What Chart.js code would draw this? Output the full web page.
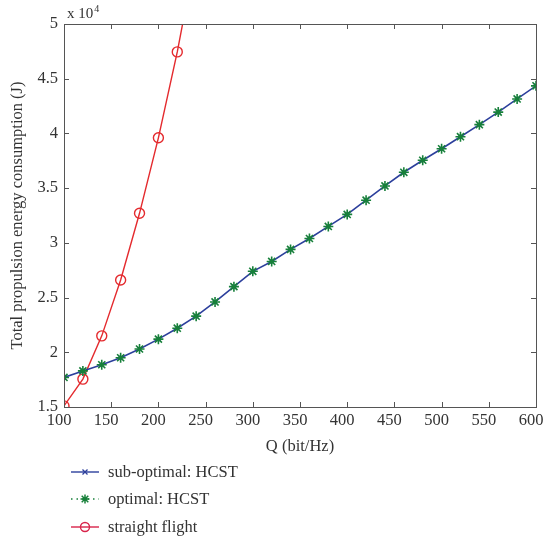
<!DOCTYPE html>
<html>
<head>
<meta charset="utf-8">
<script src="https://cdn.jsdelivr.net/npm/chart.js@4"></script>
<style>
  html, body { margin: 0; padding: 0; background: #fff; }
  #wrap { position: relative; width: 543px; height: 541px; }
  #c { position: absolute; left: 0; top: 0; }
  #legend { position: absolute; left: 70px; top: 458px; font-family: "Liberation Serif", "DejaVu Serif", serif; font-size: 16.5px; color: #333; }
  .item { height: 27.5px; display: flex; align-items: center; }
  .item svg { margin-right: 8px; }
</style>
</head>
<body>
<div id="wrap">
  <canvas id="c" width="543" height="541"></canvas>
  <div id="legend"></div>
</div>
<script>
// ---- data (energy in units of 10^4 J) ----
const qHCST = [100,120,140,160,180,200,220,240,260,280,300,320,340,360,380,400,420,440,460,480,500,520,540,560,580,600];
const subOptimal = [1.77,1.83,1.886,1.95,2.03,2.12,2.22,2.33,2.46,2.60,2.74,2.83,2.94,3.04,3.15,3.26,3.39,3.52,3.645,3.755,3.86,3.97,4.08,4.195,4.315,4.435];
const optimal    = [1.77,1.83,1.886,1.95,2.03,2.12,2.22,2.33,2.46,2.60,2.74,2.83,2.94,3.04,3.15,3.26,3.39,3.52,3.645,3.755,3.86,3.97,4.08,4.195,4.315,4.435];
const qStraight = [100,120,140,160,180,200,220,240];
const straight  = [1.51,1.755,2.15,2.66,3.27,3.96,4.745,5.65];
const xTickValues = [100,150,200,250,300,350,400,450,500,550,600];
const yTickValues = [1.5,2,2.5,3,3.5,4,4.5,5];
const seriesNames = ['sub-optimal: HCST','optimal: HCST','straight flight'];

const BLUE = '#2c3f9c', GREEN = '#17803a', RED = '#e42a2e', AXIS = '#555', TXT = '#333';
const FONT = '"Liberation Serif", "DejaVu Serif", serif';

const toXY = (xs, ys) => xs.map((x, i) => ({x, y: ys[i]}));

const boxTicks = {
  id: 'boxTicks',
  afterDraw(chart) {
    const {ctx, chartArea: a, scales: {x, y}} = chart;
    ctx.save();
    ctx.strokeStyle = AXIS;
    ctx.lineWidth = 1;
    ctx.strokeRect(a.left + 0.5, a.top + 0.5, a.right - a.left, a.bottom - a.top);
    const L = 5;
    ctx.beginPath();
    xTickValues.forEach(v => {
      const px = Math.round(x.getPixelForValue(v)) + 0.5;
      ctx.moveTo(px, a.bottom); ctx.lineTo(px, a.bottom - L);
      ctx.moveTo(px, a.top); ctx.lineTo(px, a.top + L);
    });
    yTickValues.forEach(v => {
      const py = Math.round(y.getPixelForValue(v)) + 0.5;
      ctx.moveTo(a.left, py); ctx.lineTo(a.left + L, py);
      ctx.moveTo(a.right, py); ctx.lineTo(a.right - L, py);
    });
    ctx.stroke();
    // exponent label
    ctx.fillStyle = TXT;
    ctx.textBaseline = 'alphabetic';
    ctx.font = '15px ' + FONT;
    ctx.fillText('x 10', a.left + 3, a.top - 6);
    const w = ctx.measureText('x 10').width;
    ctx.font = '10px ' + FONT;
    ctx.fillText('4', a.left + 3 + w + 1, a.top - 12);
    ctx.restore();
  }
};

const chart = new Chart(document.getElementById('c'), {
  type: 'line',
  data: {
    datasets: [
      {
        label: seriesNames[1], data: toXY(qHCST, optimal), order: 0,
        borderColor: GREEN, borderWidth: 1.2, borderDash: [1.5, 3], showLine: false,
        pointStyle: 'star', pointRadius: 5, pointBorderWidth: 1.6, pointBorderColor: GREEN, pointBackgroundColor: GREEN
      },
      {
        label: seriesNames[0], data: toXY(qHCST, subOptimal), order: 1,
        borderColor: BLUE, borderWidth: 1.6,
        pointStyle: 'crossRot', pointRadius: 3, pointBorderWidth: 1.2, pointBorderColor: BLUE
      },
      {
        label: seriesNames[2], data: toXY(qStraight, straight), order: 2,
        borderColor: RED, borderWidth: 1.4,
        pointStyle: 'circle', pointRadius: 5, pointBorderWidth: 1.4, pointBorderColor: RED, pointBackgroundColor: 'rgba(0,0,0,0)'
      }
    ]
  },
  options: {
    responsive: false,
    animation: false,
    layout: { padding: { top: 24, right: 7, left: 0, bottom: 84 } },
    plugins: { legend: { display: false }, tooltip: { enabled: false } },
    scales: {
      x: {
        type: 'linear', min: 100, max: 600,
        afterBuildTicks: s => { s.ticks = xTickValues.map(v => ({value: v})); },
        afterFit: s => { s.height = 50; s.paddingLeft = 0; s.paddingRight = 0; },
        grid: { display: false, drawTicks: false },
        border: { display: false },
        ticks: { color: TXT, font: { family: FONT, size: 16.5 }, padding: 4, labelOffset: -5, maxRotation: 0, autoSkip: false },
        title: { display: true, text: 'Q (bit/Hz)', color: TXT, font: { family: FONT, size: 16.5 }, padding: { top: 0, bottom: 0 } }
      },
      y: {
        type: 'linear', min: 1.5, max: 5,
        afterBuildTicks: s => { s.ticks = yTickValues.map(v => ({value: v})); },
        afterFit: s => { s.width = 64; s.paddingTop = 0; s.paddingBottom = 0; },
        grid: { display: false, drawTicks: false },
        border: { display: false },
        ticks: { color: TXT, font: { family: FONT, size: 16.5 }, padding: 6, autoSkip: false, callback: v => String(v) },
        title: { display: true, text: 'Total propulsion energy consumption (J)', color: TXT, font: { family: FONT, size: 16.5 }, padding: { top: 8, bottom: 0 } }
      }
    }
  },
  plugins: [boxTicks]
});

// ---- HTML legend ----
const legendDefs = [
  {name: seriesNames[0], color: BLUE, dash: '', marker: 'x'},
  {name: seriesNames[1], color: GREEN, dash: '1.5 4', marker: 'star'},
  {name: seriesNames[2], color: '#d8234a', dash: '', marker: 'o'}
];
const leg = document.getElementById('legend');
legendDefs.forEach(d => {
  let m = '';
  const cx = 15, cy = 7;
  if (d.marker === 'x') m = `<path d="M${cx-2.5},${cy-2.5}L${cx+2.5},${cy+2.5}M${cx+2.5},${cy-2.5}L${cx-2.5},${cy+2.5}" stroke="${d.color}" stroke-width="1.3"/>`;
  if (d.marker === 'star') m = `<path d="M${cx-4.5},${cy}L${cx+4.5},${cy}M${cx},${cy-4.5}L${cx},${cy+4.5}M${cx-3.3},${cy-3.3}L${cx+3.3},${cy+3.3}M${cx+3.3},${cy-3.3}L${cx-3.3},${cy+3.3}" stroke="${d.color}" stroke-width="1.5"/>`;
  if (d.marker === 'o') m = `<circle cx="${cx}" cy="${cy}" r="4.5" fill="none" stroke="${d.color}" stroke-width="1.4"/>`;
  const div = document.createElement('div');
  div.className = 'item';
  div.innerHTML = `<svg width="30" height="14"><line x1="1" y1="${cy}" x2="29" y2="${cy}" stroke="${d.color}" stroke-width="1.4" ${d.dash ? `stroke-dasharray="${d.dash}"` : ''}/>${m}</svg><span>${d.name}</span>`;
  leg.appendChild(div);
});
</script>
</body>
</html>
